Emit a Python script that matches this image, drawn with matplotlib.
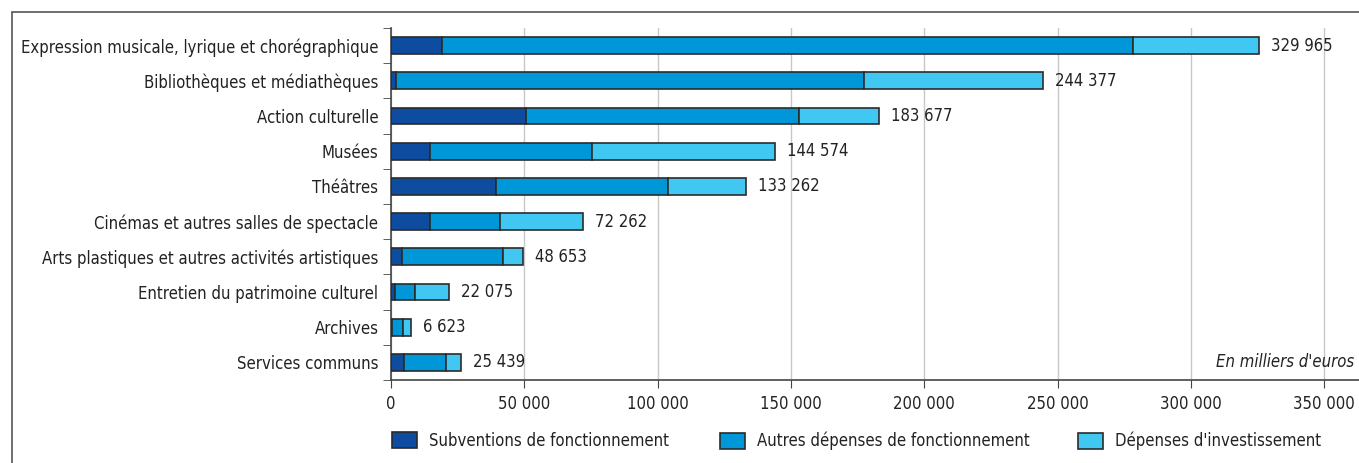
import matplotlib
matplotlib.use("Agg")
import matplotlib.pyplot as plt
from matplotlib.patches import Patch, Rectangle
import numpy as np

plt.rcParams['font.family'] = ['DejaVu Sans']
plt.rcParams['font.stretch'] = 'condensed'

categories = [
    "Expression musicale, lyrique et chorégraphique",
    "Bibliothèques et médiathèques",
    "Action culturelle",
    "Musées",
    "Théâtres",
    "Cinémas et autres salles de spectacle",
    "Arts plastiques et autres activités artistiques",
    "Entretien du patrimoine culturel",
    "Archives",
    "Services communs",
]
# en milliers d'euros
subventions = [19000, 1800, 50700, 14700, 39400, 14700, 4200, 1400, 200, 4800]
autres_fonct = [259300, 175600, 102200, 60700, 64600, 26100, 37800, 7500, 4300, 15700]
investissement = [47300, 67000, 30200, 68700, 29000, 31300, 7600, 13000, 3000, 5900]
totaux = ["329 965", "244 377", "183 677", "144 574", "133 262",
          "72 262", "48 653", "22 075", "6 623", "25 439"]
series_names = ["Subventions de fonctionnement",
                "Autres dépenses de fonctionnement",
                "Dépenses d'investissement"]
colors = ["#0d4c9f", "#0097d8", "#40c8f2"]
xticks = [0, 50000, 100000, 150000, 200000, 250000, 300000, 350000]
xticklabels = ["0", "50 000", "100 000", "150 000", "200 000", "250 000", "300 000", "350 000"]

W, H = 1359, 463
fs = 12
fig = plt.figure(figsize=(W / 100, H / 100), dpi=100)
ax = fig.add_axes([391 / W, 1 - 380 / H, 1 - 391 / W, 352 / H])

y = np.arange(len(categories))
left = np.zeros(len(categories))
for vals, col in zip([subventions, autres_fonct, investissement], colors):
    ax.barh(y, vals, left=left, height=0.48, color=col, edgecolor="#2b2b2b",
            linewidth=1.2, zorder=3)
    left = left + np.array(vals)

for yi, end, txt in zip(y, left, totaux):
    ax.text(end + 4500, yi, txt, va="center", ha="left", fontsize=fs, color="#222222")

ax.set_xlim(0, 363000)
ax.set_ylim(len(categories) - 0.5, -0.5)
ax.set_xticks(xticks)
ax.set_xticklabels(xticklabels, fontsize=fs, color="#222222")
ax.set_yticks(y)
ax.set_yticklabels(categories, fontsize=fs, color="#222222")
ax.set_yticks(np.arange(-0.5, len(categories), 1.0), minor=True)
ax.tick_params(axis="y", which="major", length=0, pad=9)
ax.tick_params(axis="y", which="minor", length=6, color="#444444")
ax.tick_params(axis="x", length=6, color="#444444", pad=5)
ax.xaxis.grid(True, color="#c8c8c8", linewidth=1, zorder=0)
ax.set_axisbelow(True)
for s in ["top", "right"]:
    ax.spines[s].set_visible(False)
for s in ["left", "bottom"]:
    ax.spines[s].set_color("#444444")
    ax.spines[s].set_linewidth(1.2)

ax.text(0.995, 9, "En milliers d'euros", transform=ax.get_yaxis_transform(),
        ha="right", va="center", fontsize=fs, style="italic", color="#222222")

# légende : une entrée par position, comme dans la source
leg_x = [392, 720, 1078]
for name, col, lx in zip(series_names, colors, leg_x):
    h = Patch(facecolor=col, edgecolor="#2b2b2b", linewidth=1.2)
    leg = fig.legend([h], [name], loc="center left",
                     bbox_to_anchor=(lx / W, 1 - 441 / H), frameon=False, fontsize=fs,
                     borderpad=0, borderaxespad=0, handlelength=1.5, handleheight=1.1,
                     handletextpad=0.7, labelcolor="#222222")

fig.patches.append(Rectangle((12 / W, -0.1), 1.2, 1 - 12 / H + 0.1, transform=fig.transFigure,
                             fill=False, edgecolor="#555555", linewidth=1.2))

fig.savefig("out.png", dpi=100)
